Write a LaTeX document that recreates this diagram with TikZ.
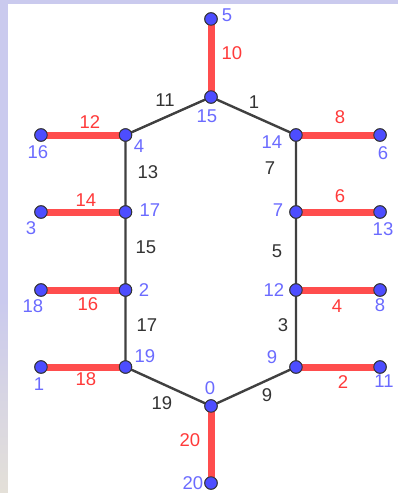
\documentclass[tikz,border=0pt]{standalone}
\usepackage{fontspec}
\setmainfont{Liberation Sans}
\definecolor{bgl}{HTML}{CACAEE}
\definecolor{bgy}{HTML}{E4E0D8}
\definecolor{ptblue}{HTML}{4D4DFF}
\definecolor{lblblue}{HTML}{6B6BFF}
\definecolor{redl}{HTML}{FF4D4D}
\definecolor{redt}{HTML}{FF3A3A}
\definecolor{grayl}{HTML}{404040}
\definecolor{txtk}{HTML}{333333}
\tikzset{
  pt/.style={circle,fill=ptblue,draw=black!80,line width=0.9pt,minimum size=12.5pt,inner sep=0pt},
  redseg/.style={draw=redl,line width=7pt},
  grayseg/.style={draw=grayl,line width=2.4pt},
  vlab/.style={text=lblblue,inner sep=0pt,font=\fontsize{18.5}{18.5}\selectfont},
  elab/.style={text=txtk,inner sep=0pt,font=\fontsize{18.5}{18.5}\selectfont},
  rlab/.style={text=redt,inner sep=0pt,font=\fontsize{18.5}{18.5}\selectfont}
}
\begin{document}
\begin{tikzpicture}[x=1pt,y=-1pt]
\useasboundingbox (0,0) rectangle (398,493);
\fill[bgl] (0,0) rectangle (398,493);
\shade[top color=bgl,bottom color=bgy] (0,300) rectangle (8,493);
\fill[white] (8,4) rectangle (398,493);
% points
\node[pt] (v15) at (211,97) {};
\node[pt] (v5) at (211,19) {};
\node[pt] (v4) at (125.5,135) {};
\node[pt] (v16) at (41,135) {};
\node[pt] (v17) at (125.5,212) {};
\node[pt] (v3) at (41,212) {};
\node[pt] (v2) at (125.5,290) {};
\node[pt] (v18) at (41,290) {};
\node[pt] (v19) at (125.5,367) {};
\node[pt] (v1) at (41,367) {};
\node[pt] (v0) at (211,406) {};
\node[pt] (v20) at (211,483) {};
\node[pt] (v14) at (296,135) {};
\node[pt] (v6) at (380,135) {};
\node[pt] (v7) at (296,212) {};
\node[pt] (v13) at (380,212) {};
\node[pt] (v12) at (296,290) {};
\node[pt] (v8) at (380,290) {};
\node[pt] (v9) at (296,367) {};
\node[pt] (v11) at (380,367) {};
% edges
\path[redseg] (v15.center) -- (v5.center);
\path[redseg] (v4.center) -- (v16.center);
\path[redseg] (v17.center) -- (v3.center);
\path[redseg] (v2.center) -- (v18.center);
\path[redseg] (v19.center) -- (v1.center);
\path[redseg] (v0.center) -- (v20.center);
\path[redseg] (v14.center) -- (v6.center);
\path[redseg] (v7.center) -- (v13.center);
\path[redseg] (v12.center) -- (v8.center);
\path[redseg] (v9.center) -- (v11.center);
\path[grayseg] (v15.center) -- (v4.center) -- (v17.center) -- (v2.center) -- (v19.center) -- (v0.center) -- (v9.center) -- (v12.center) -- (v7.center) -- (v14.center) -- (v15.center);
% redraw points on top
\foreach \n in {v15,v5,v4,v16,v17,v3,v2,v18,v19,v1,v0,v20,v14,v6,v7,v13,v12,v8,v9,v11}
  \node[pt] at (\n) {};
% vertex labels
\node[vlab] (l5) at (227,15) {5};
\node[vlab] (l15) at (207,116) {15};
\node[vlab] (l4) at (139,146) {4};
\node[vlab] (l16) at (38,152) {16};
\node[vlab] (l17) at (150,210) {17};
\node[vlab] (l3) at (31,228) {3};
\node[vlab] (l2) at (144,290) {2};
\node[vlab] (l18) at (33,306) {18};
\node[vlab] (l19) at (145,356) {19};
\node[vlab] (l1) at (39,384) {1};
\node[vlab] (l0) at (210,388) {0};
\node[vlab] (l20) at (193,483) {20};
\node[vlab] (l14) at (272,142) {14};
\node[vlab] (l6) at (383,153) {6};
\node[vlab] (l7) at (278,210) {7};
\node[vlab] (l13) at (383,229) {13};
\node[vlab] (l12) at (274,290) {12};
\node[vlab] (l8) at (380,305) {8};
\node[vlab] (l9) at (272,357) {9};
\node[vlab] (l11) at (384,381) {11};
% edge labels
\node[rlab] (e10) at (232,53) {10};
\node[elab] (e11) at (165,100) {11};
\node[elab] (e1) at (254,102) {1};
\node[rlab] (e12) at (90,122) {12};
\node[elab] (e13) at (148,172) {13};
\node[rlab] (e14) at (86,200) {14};
\node[elab] (e15) at (146,247) {15};
\node[rlab] (e16) at (88,304) {16};
\node[elab] (e17) at (147,325) {17};
\node[rlab] (e18) at (86,379) {18};
\node[elab] (e19) at (162,403) {19};
\node[rlab] (e20) at (190,440) {20};
\node[rlab] (e8) at (340,117) {8};
\node[elab] (e7) at (270,168) {7};
\node[rlab] (e6) at (340,196) {6};
\node[elab] (e5) at (277,251) {5};
\node[rlab] (e4) at (337,306) {4};
\node[elab] (e3) at (283,325) {3};
\node[rlab] (e2) at (343,382) {2};
\node[elab] (e9) at (267,395) {9};
\end{tikzpicture}
\end{document}
